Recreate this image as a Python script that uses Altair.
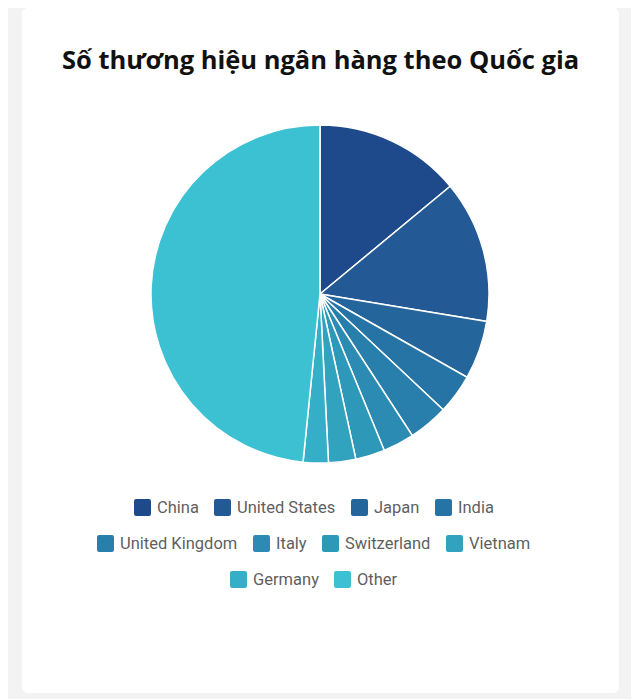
"""Pie chart: number of bank brands by country."""

import altair as alt
import pandas as pd

COUNTRIES = ['China', 'United States', 'Japan', 'India', 'United Kingdom',
             'Italy', 'Switzerland', 'Vietnam', 'Germany', 'Other']
BRANDS = [70, 68, 28, 19, 19, 15, 14, 13, 12, 242]
COLORS = ['#1e4a8c', '#235a95', '#24669c', '#2673a5', '#297fac',
          '#2b8bb2', '#2e98b9', '#31a3bf', '#35aec7', '#3cc1d2']
TITLE = 'Số thương hiệu ngân hàng theo Quốc gia'

# legend rows as they wrap under the pie
LEGEND_ROWS = [COUNTRIES[0:4], COUNTRIES[4:8], COUNTRIES[8:10]]
LEGEND_POS = [(112, 491), (75, 527), (208, 563)]

ROUNDED_SQUARE = ('M-0.75,-1H0.75Q1,-1 1,-0.75V0.75Q1,1 0.75,1H-0.75'
                  'Q-1,1 -1,0.75V-0.75Q-1,-1 -0.75,-1Z')

df = pd.DataFrame({'country': COUNTRIES, 'brands': BRANDS,
                   'order': list(range(len(COUNTRIES)))})
color_of = dict(zip(COUNTRIES, COLORS))

pie = alt.Chart(df).mark_arc(outerRadius=169, stroke='white', strokeWidth=1.5).encode(
    theta=alt.Theta('brands:Q', stack=True),
    order=alt.Order('order:Q'),
    color=alt.Color('country:N', legend=None).scale(domain=COUNTRIES, range=COLORS),
    x=alt.value(298),
    y=alt.value(286),
)


def legend_row(names, pos):
    sub = df[df['country'].isin(names)]
    return alt.Chart(sub).mark_arc(opacity=0).encode(
        color=alt.Color(
            'country:N',
            title=None,
            sort=names,
            legend=alt.Legend(orient='none', legendX=pos[0], legendY=pos[1],
                              direction='horizontal'),
        ).scale(domain=names, range=[color_of[n] for n in names]),
        x=alt.value(298),
        y=alt.value(286),
    )


layers = [pie] + [legend_row(n, p) for n, p in zip(LEGEND_ROWS, LEGEND_POS)]

chart = alt.layer(*layers).resolve_scale(color='independent').properties(
    width=597,
    height=685,
    autosize=alt.AutoSizeParams(type='none'),
    padding={'left': 14, 'top': 0, 'right': 12, 'bottom': 6},
    background='#f3f3f3',
    title=alt.TitleParams(
        TITLE, font='Open Sans', fontSize=25.5, fontWeight='bold', color='#111111',
        anchor='middle', baseline='alphabetic', offset=-99,
    ),
).configure_view(
    fill='white', stroke=None, cornerRadius=6,
).configure_legend(
    labelFont='Roboto', labelFontSize=16.5, labelColor='#5f5f5f',
    symbolType=ROUNDED_SQUARE, symbolSize=289, symbolStrokeWidth=0,
    symbolOpacity=1, labelOffset=6, columnPadding=15, padding=0,
)

chart.save('out.html', embed_options={'renderer': 'svg', 'actions': False})
